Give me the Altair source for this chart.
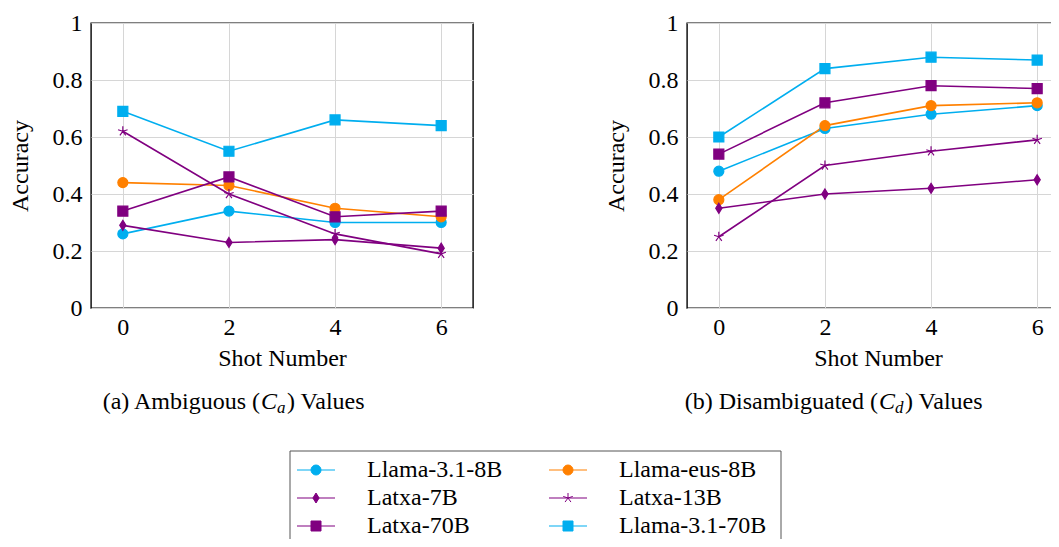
import altair as alt
import pandas as pd

FONT = "Liberation Serif"

shots = [0, 2, 4, 6]
y_ticks = [0, 0.2, 0.4, 0.6, 0.8, 1.0]
models = ["Llama-3.1-8B", "Llama-eus-8B", "Latxa-7B", "Latxa-13B", "Latxa-70B", "Llama-3.1-70B"]
colors = ["#00AEEF", "#FF8000", "#800080", "#800080", "#800080", "#00AEEF"]
shapes = [
    "circle",
    "circle",
    "M0,-1L0.62,0L0,1L-0.62,0Z",
    "M0,0L0,-1M0,0L0.95,-0.31M0,0L0.59,0.81M0,0L-0.59,0.81M0,0L-0.95,-0.31",
    "square",
    "square",
]
sizes = [100, 100, 110, 70, 100, 100]

# (a) Ambiguous values
amb_llama8 = [0.26, 0.34, 0.30, 0.30]
amb_eus8 = [0.44, 0.43, 0.35, 0.32]
amb_latxa7 = [0.29, 0.23, 0.24, 0.21]
amb_latxa13 = [0.62, 0.40, 0.26, 0.19]
amb_latxa70 = [0.34, 0.46, 0.32, 0.34]
amb_llama70 = [0.69, 0.55, 0.66, 0.64]

# (b) Disambiguated values
dis_llama8 = [0.48, 0.63, 0.68, 0.71]
dis_eus8 = [0.38, 0.64, 0.71, 0.72]
dis_latxa7 = [0.35, 0.40, 0.42, 0.45]
dis_latxa13 = [0.25, 0.50, 0.55, 0.59]
dis_latxa70 = [0.54, 0.72, 0.78, 0.77]
dis_llama70 = [0.60, 0.84, 0.88, 0.87]

caption_a = ["(a) Ambiguous (", "C", "a", ") Values"]
caption_b = ["(b) Disambiguated (", "C", "d", ") Values"]

# legend layout (column, row) per model
legend_col = [0, 1, 0, 1, 0, 1]
legend_row = [0, 0, 1, 1, 2, 2]


def make_df(series):
    rows = []
    for m, vals in zip(models, series):
        for s, v in zip(shots, vals):
            rows.append({"model": m, "shot": s, "acc": v})
    return pd.DataFrame(rows)


amb_df = make_df([amb_llama8, amb_eus8, amb_latxa7, amb_latxa13, amb_latxa70, amb_llama70])
dis_df = make_df([dis_llama8, dis_eus8, dis_latxa7, dis_latxa13, dis_latxa70, dis_llama70])

color_scale = alt.Scale(domain=models, range=colors)
shape_scale = alt.Scale(domain=models, range=shapes)
size_scale = alt.Scale(domain=models, range=sizes)

PW, PH = 382, 285


def caption_layers(parts, anchor):
    t1 = pd.DataFrame({"t": [parts[0]]})
    t2 = pd.DataFrame({"t": [parts[1]]})
    t3 = pd.DataFrame({"t": [parts[2]]})
    t4 = pd.DataFrame({"t": [parts[3]]})
    base_y = 386
    l1 = alt.Chart(t1).mark_text(align="right", baseline="alphabetic", font=FONT, fontSize=24, color="black").encode(
        x=alt.value(anchor), y=alt.value(base_y), text="t:N")
    l2 = alt.Chart(t2).mark_text(align="left", baseline="alphabetic", font=FONT, fontSize=24, fontStyle="italic", color="black").encode(
        x=alt.value(anchor + 1), y=alt.value(base_y), text="t:N")
    l3 = alt.Chart(t3).mark_text(align="left", baseline="alphabetic", font=FONT, fontSize=17, fontStyle="italic", color="black").encode(
        x=alt.value(anchor + 17), y=alt.value(base_y + 4), text="t:N")
    l4 = alt.Chart(t4).mark_text(align="left", baseline="alphabetic", font=FONT, fontSize=24, color="black").encode(
        x=alt.value(anchor + 27), y=alt.value(base_y), text="t:N")
    return [l1, l2, l3, l4]


def panel(df, caption, anchor):
    x = alt.X("shot:Q", scale=alt.Scale(domain=[-0.6, 6.6], nice=False, zero=False),
              axis=alt.Axis(values=shots, title="Shot Number", format="d", labelPadding=7, titlePadding=7))
    y = alt.Y("acc:Q", scale=alt.Scale(domain=[0, 1], nice=False),
              axis=alt.Axis(values=y_ticks, format=".1~f", title="Accuracy", labelPadding=9, titlePadding=20))
    base = alt.Chart(df)
    lines = base.mark_line(strokeWidth=1.6).encode(
        x=x, y=y, color=alt.Color("model:N", scale=color_scale, legend=None), order="shot:Q")
    pts = base.mark_point(filled=True, opacity=1, strokeWidth=1.2).encode(
        x=x, y=y,
        color=alt.Color("model:N", scale=color_scale, legend=None),
        stroke=alt.Stroke("model:N", scale=color_scale, legend=None),
        shape=alt.Shape("model:N", scale=shape_scale, legend=None),
        size=alt.Size("model:N", scale=size_scale, legend=None),
    )
    return alt.layer(lines, pts, *caption_layers(caption, anchor)).properties(
        width=PW, height=PH, view=alt.ViewBackground(stroke="black", strokeWidth=1.4))


left = panel(amb_df, caption_a, 169)
right = panel(dis_df, caption_b, 191)

top = alt.hconcat(left, right, spacing=129)

# legend (positions relative to the left plot origin, which the legend view shares)
leg_df = pd.DataFrame({"model": models, "col": legend_col, "row": legend_row})
X0 = 91
Y0 = 440
lx = alt.X("col:Q", scale=alt.Scale(domain=[0, 1], range=[316 - X0, 568 - X0]), axis=None)
ly = alt.Y("row:Q", scale=alt.Scale(domain=[0, 2], range=[470 - Y0, 526 - Y0]), axis=None)
leg_base = alt.Chart(leg_df)
box = alt.Chart(pd.DataFrame({"k": [0]})).mark_rect(fillOpacity=0, stroke="#555555", strokeWidth=1).encode(
    x=alt.value(290 - X0), x2=alt.value(781 - X0), y=alt.value(451 - Y0), y2=alt.value(560 - Y0))
leg_lines = leg_base.mark_rule(xOffset=-19, x2Offset=19, strokeWidth=1.2).encode(
    x=lx, x2="col:Q", y=ly, color=alt.Color("model:N", scale=color_scale, legend=None))
leg_pts = leg_base.mark_point(filled=True, opacity=1, strokeWidth=1.0).encode(
    x=lx, y=ly,
    color=alt.Color("model:N", scale=color_scale, legend=None),
    stroke=alt.Stroke("model:N", scale=color_scale, legend=None),
    shape=alt.Shape("model:N", scale=shape_scale, legend=None),
    size=alt.Size("model:N", scale=alt.Scale(domain=models, range=[80, 80, 80, 55, 80, 80]), legend=None),
)
leg_text = leg_base.mark_text(align="left", baseline="middle", dx=51, font=FONT, fontSize=24, color="black").encode(
    x=lx, y=ly, text="model:N")
legend = alt.layer(box, leg_lines, leg_pts, leg_text).properties(
    width=700, height=120, view=alt.ViewBackground(stroke="transparent"))

# with autosize "none" the first plot's origin sits at the padding offset and overflow is clipped
PAD_L, PAD_T = 83, 15
chart = alt.vconcat(top, legend, spacing=22).properties(
    autosize=alt.AutoSizeParams(type="none"),
    padding={"left": PAD_L, "top": PAD_T, "right": 1043 - PAD_L, "bottom": 531 - PAD_T},
).configure(font=FONT).configure_axis(
    labelFont=FONT, titleFont=FONT, labelFontSize=24, titleFontSize=24,
    titleFontWeight="normal", labelColor="black", titleColor="black",
    gridColor="#d6d6d6", gridWidth=1, domain=False, ticks=False,
).configure_view(stroke="black")

chart.save("out.html", embed_options={"renderer": "svg", "actions": False})
